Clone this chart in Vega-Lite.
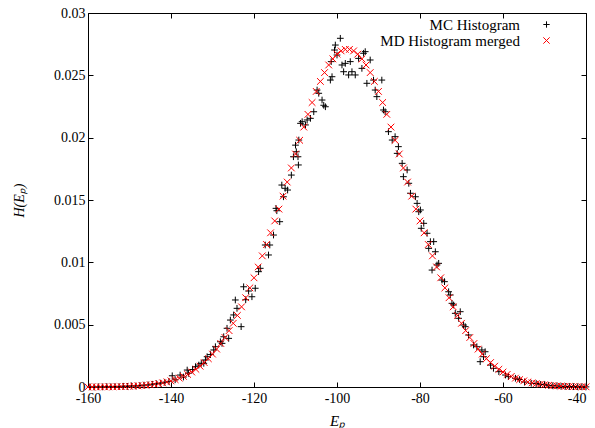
{
  "$schema": "https://vega.github.io/schema/vega-lite/v6.json",
  "width": 498,
  "height": 374,
  "autosize": {"type": "none"},
  "padding": {"left": 88, "top": 13, "right": 9, "bottom": 41},
  "config": {
    "view": {"stroke": "black", "strokeWidth": 1},
    "font": "Liberation Serif",
    "axis": {"domain": false, "grid": false, "tickColor": "black", "tickSize": -5, "labelFlush": false, "labelFont": "Liberation Serif", "labelFontSize": 14, "labelColor": "black", "titleFont": "Liberation Serif", "titleFontSize": 15, "titleFontWeight": "normal", "titleFontStyle": "italic", "titleColor": "black"},
    "legend": {"labelFont": "Liberation Serif", "labelFontSize": 15, "labelColor": "black", "labelLimit": 0}
  },
  "data": {"values": [
    {"E":-159.5,"H":0.00001,"s":"MC Histogram"},{"E":-158.5,"H":0.0,"s":"MC Histogram"},{"E":-157.5,"H":0.00002,"s":"MC Histogram"},{"E":-156.5,"H":0.00001,"s":"MC Histogram"},{"E":-155.5,"H":0.00003,"s":"MC Histogram"},{"E":-154.5,"H":0.00002,"s":"MC Histogram"},{"E":-153.5,"H":0.00004,"s":"MC Histogram"},{"E":-152.5,"H":0.00003,"s":"MC Histogram"},{"E":-151.5,"H":0.00006,"s":"MC Histogram"},{"E":-150.5,"H":0.00005,"s":"MC Histogram"},{"E":-149.5,"H":0.00009,"s":"MC Histogram"},{"E":-148.5,"H":0.00008,"s":"MC Histogram"},{"E":-147.5,"H":0.00012,"s":"MC Histogram"},{"E":-146.5,"H":0.00015,"s":"MC Histogram"},{"E":-145.5,"H":0.00017,"s":"MC Histogram"},{"E":-144.5,"H":0.00022,"s":"MC Histogram"},{"E":-143.5,"H":0.00026,"s":"MC Histogram"},{"E":-142.5,"H":0.00031,"s":"MC Histogram"},{"E":-141.5,"H":0.00038,"s":"MC Histogram"},{"E":-140.5,"H":0.00045,"s":"MC Histogram"},{"E":-139.7,"H":0.0009,"s":"MC Histogram"},{"E":-139,"H":0.00058,"s":"MC Histogram"},{"E":-137.8,"H":0.00096,"s":"MC Histogram"},{"E":-137,"H":0.0008,"s":"MC Histogram"},{"E":-136.1,"H":0.00136,"s":"MC Histogram"},{"E":-135.8,"H":0.0011,"s":"MC Histogram"},{"E":-134.8,"H":0.0014,"s":"MC Histogram"},{"E":-134.1,"H":0.00163,"s":"MC Histogram"},{"E":-133.3,"H":0.00176,"s":"MC Histogram"},{"E":-132.7,"H":0.0019,"s":"MC Histogram"},{"E":-132.1,"H":0.0019,"s":"MC Histogram"},{"E":-131.7,"H":0.00217,"s":"MC Histogram"},{"E":-131.3,"H":0.00243,"s":"MC Histogram"},{"E":-130.5,"H":0.0026,"s":"MC Histogram"},{"E":-129.7,"H":0.00297,"s":"MC Histogram"},{"E":-129.3,"H":0.00323,"s":"MC Histogram"},{"E":-128.1,"H":0.00363,"s":"MC Histogram"},{"E":-127.7,"H":0.0035,"s":"MC Histogram"},{"E":-127.3,"H":0.00403,"s":"MC Histogram"},{"E":-126.5,"H":0.00471,"s":"MC Histogram"},{"E":-126.1,"H":0.0039,"s":"MC Histogram"},{"E":-125.7,"H":0.00537,"s":"MC Histogram"},{"E":-124.9,"H":0.00578,"s":"MC Histogram"},{"E":-124.5,"H":0.00698,"s":"MC Histogram"},{"E":-124.1,"H":0.00631,"s":"MC Histogram"},{"E":-123.1,"H":0.00484,"s":"MC Histogram"},{"E":-122.5,"H":0.00804,"s":"MC Histogram"},{"E":-122.0,"H":0.0070,"s":"MC Histogram"},{"E":-121.3,"H":0.0077,"s":"MC Histogram"},{"E":-120.5,"H":0.00724,"s":"MC Histogram"},{"E":-119.7,"H":0.00792,"s":"MC Histogram"},{"E":-118.9,"H":0.00925,"s":"MC Histogram"},{"E":-118.5,"H":0.00952,"s":"MC Histogram"},{"E":-117.3,"H":0.01139,"s":"MC Histogram"},{"E":-116.5,"H":0.01059,"s":"MC Histogram"},{"E":-116.2,"H":0.01139,"s":"MC Histogram"},{"E":-115.3,"H":0.01219,"s":"MC Histogram"},{"E":-114.7,"H":0.01433,"s":"MC Histogram"},{"E":-114.5,"H":0.01414,"s":"MC Histogram"},{"E":-113.8,"H":0.01326,"s":"MC Histogram"},{"E":-113.3,"H":0.0162,"s":"MC Histogram"},{"E":-112.9,"H":0.01526,"s":"MC Histogram"},{"E":-112.5,"H":0.01594,"s":"MC Histogram"},{"E":-111.9,"H":0.0158,"s":"MC Histogram"},{"E":-111.0,"H":0.017,"s":"MC Histogram"},{"E":-110.5,"H":0.01847,"s":"MC Histogram"},{"E":-110.0,"H":0.0194,"s":"MC Histogram"},{"E":-109.8,"H":0.01887,"s":"MC Histogram"},{"E":-109.4,"H":0.01847,"s":"MC Histogram"},{"E":-109.3,"H":0.01781,"s":"MC Histogram"},{"E":-109.2,"H":0.01981,"s":"MC Histogram"},{"E":-108.8,"H":0.02115,"s":"MC Histogram"},{"E":-108.4,"H":0.02128,"s":"MC Histogram"},{"E":-107.6,"H":0.02102,"s":"MC Histogram"},{"E":-107.2,"H":0.02142,"s":"MC Histogram"},{"E":-106.4,"H":0.02155,"s":"MC Histogram"},{"E":-105.6,"H":0.02208,"s":"MC Histogram"},{"E":-104.8,"H":0.02382,"s":"MC Histogram"},{"E":-104.4,"H":0.02356,"s":"MC Histogram"},{"E":-103.6,"H":0.02302,"s":"MC Histogram"},{"E":-103.2,"H":0.0226,"s":"MC Histogram"},{"E":-102.8,"H":0.02248,"s":"MC Histogram"},{"E":-101.6,"H":0.02462,"s":"MC Histogram"},{"E":-101.4,"H":0.0261,"s":"MC Histogram"},{"E":-101.2,"H":0.02489,"s":"MC Histogram"},{"E":-100.6,"H":0.02703,"s":"MC Histogram"},{"E":-100.4,"H":0.02743,"s":"MC Histogram"},{"E":-100.0,"H":0.02663,"s":"MC Histogram"},{"E":-99.2,"H":0.02797,"s":"MC Histogram"},{"E":-98.8,"H":0.02583,"s":"MC Histogram"},{"E":-98.4,"H":0.02529,"s":"MC Histogram"},{"E":-98.0,"H":0.02596,"s":"MC Histogram"},{"E":-97.2,"H":0.02503,"s":"MC Histogram"},{"E":-96.8,"H":0.0261,"s":"MC Histogram"},{"E":-96.4,"H":0.02529,"s":"MC Histogram"},{"E":-95.6,"H":0.02503,"s":"MC Histogram"},{"E":-94.8,"H":0.02636,"s":"MC Histogram"},{"E":-94.0,"H":0.02556,"s":"MC Histogram"},{"E":-93.6,"H":0.02677,"s":"MC Histogram"},{"E":-93.2,"H":0.0269,"s":"MC Histogram"},{"E":-92.8,"H":0.02436,"s":"MC Histogram"},{"E":-92.0,"H":0.02623,"s":"MC Histogram"},{"E":-91.2,"H":0.02462,"s":"MC Histogram"},{"E":-90.8,"H":0.02382,"s":"MC Histogram"},{"E":-90.4,"H":0.02329,"s":"MC Histogram"},{"E":-89.2,"H":0.02462,"s":"MC Histogram"},{"E":-88.8,"H":0.02222,"s":"MC Histogram"},{"E":-88.4,"H":0.02208,"s":"MC Histogram"},{"E":-87.6,"H":0.02048,"s":"MC Histogram"},{"E":-86.7,"H":0.01981,"s":"MC Histogram"},{"E":-86.0,"H":0.02008,"s":"MC Histogram"},{"E":-85.5,"H":0.01874,"s":"MC Histogram"},{"E":-85.2,"H":0.01928,"s":"MC Histogram"},{"E":-84.3,"H":0.01794,"s":"MC Histogram"},{"E":-84.0,"H":0.01687,"s":"MC Histogram"},{"E":-83.1,"H":0.01741,"s":"MC Histogram"},{"E":-82.7,"H":0.01634,"s":"MC Histogram"},{"E":-82.3,"H":0.01554,"s":"MC Histogram"},{"E":-81.1,"H":0.01526,"s":"MC Histogram"},{"E":-80.7,"H":0.01473,"s":"MC Histogram"},{"E":-80.3,"H":0.01406,"s":"MC Histogram"},{"E":-79.9,"H":0.0142,"s":"MC Histogram"},{"E":-79.7,"H":0.01273,"s":"MC Histogram"},{"E":-79.1,"H":0.01313,"s":"MC Histogram"},{"E":-78.3,"H":0.01233,"s":"MC Histogram"},{"E":-77.9,"H":0.01112,"s":"MC Histogram"},{"E":-77.5,"H":0.01166,"s":"MC Histogram"},{"E":-77.1,"H":0.00938,"s":"MC Histogram"},{"E":-76.7,"H":0.01166,"s":"MC Histogram"},{"E":-76.3,"H":0.01085,"s":"MC Histogram"},{"E":-75.9,"H":0.00979,"s":"MC Histogram"},{"E":-75.5,"H":0.00992,"s":"MC Histogram"},{"E":-74.7,"H":0.00858,"s":"MC Histogram"},{"E":-74.1,"H":0.00845,"s":"MC Histogram"},{"E":-73.1,"H":0.00764,"s":"MC Histogram"},{"E":-72.7,"H":0.00738,"s":"MC Histogram"},{"E":-72.3,"H":0.00671,"s":"MC Histogram"},{"E":-71.9,"H":0.00658,"s":"MC Histogram"},{"E":-71.5,"H":0.00591,"s":"MC Histogram"},{"E":-70.7,"H":0.00551,"s":"MC Histogram"},{"E":-70.3,"H":0.00604,"s":"MC Histogram"},{"E":-69.5,"H":0.00497,"s":"MC Histogram"},{"E":-69.1,"H":0.00484,"s":"MC Histogram"},{"E":-68.3,"H":0.00417,"s":"MC Histogram"},{"E":-67.1,"H":0.00337,"s":"MC Histogram"},{"E":-66.3,"H":0.00323,"s":"MC Histogram"},{"E":-65.5,"H":0.00203,"s":"MC Histogram"},{"E":-65.1,"H":0.00297,"s":"MC Histogram"},{"E":-64.7,"H":0.00243,"s":"MC Histogram"},{"E":-64.3,"H":0.00283,"s":"MC Histogram"},{"E":-63.0,"H":0.00176,"s":"MC Histogram"},{"E":-62.3,"H":0.0015,"s":"MC Histogram"},{"E":-61.0,"H":0.00123,"s":"MC Histogram"},{"E":-59.4,"H":0.00096,"s":"MC Histogram"},{"E":-58.7,"H":0.00083,"s":"MC Histogram"},{"E":-57.0,"H":0.0007,"s":"MC Histogram"},{"E":-56.0,"H":0.0006,"s":"MC Histogram"},{"E":-54.8,"H":0.0004,"s":"MC Histogram"},{"E":-53.2,"H":0.0003,"s":"MC Histogram"},{"E":-52.0,"H":0.00028,"s":"MC Histogram"},{"E":-51.0,"H":0.00021,"s":"MC Histogram"},{"E":-50.0,"H":0.00019,"s":"MC Histogram"},{"E":-49.0,"H":0.00013,"s":"MC Histogram"},{"E":-48.0,"H":0.0001,"s":"MC Histogram"},{"E":-47.0,"H":0.00009,"s":"MC Histogram"},{"E":-46.0,"H":0.00006,"s":"MC Histogram"},{"E":-45.0,"H":0.00005,"s":"MC Histogram"},{"E":-44.0,"H":0.00004,"s":"MC Histogram"},{"E":-43.0,"H":0.00003,"s":"MC Histogram"},{"E":-42.0,"H":0.00002,"s":"MC Histogram"},{"E":-41.0,"H":0.00002,"s":"MC Histogram"},{"E":-40.0,"H":0.00001,"s":"MC Histogram"},
    {"E":-160,"H":0.000004,"s":"MD Histogram merged"},{"E":-159,"H":0.000005,"s":"MD Histogram merged"},{"E":-158,"H":0.000007,"s":"MD Histogram merged"},{"E":-157,"H":0.000009,"s":"MD Histogram merged"},{"E":-156,"H":0.000012,"s":"MD Histogram merged"},{"E":-155,"H":0.000015,"s":"MD Histogram merged"},{"E":-154,"H":0.00002,"s":"MD Histogram merged"},{"E":-153,"H":0.000025,"s":"MD Histogram merged"},{"E":-152,"H":0.000033,"s":"MD Histogram merged"},{"E":-151,"H":0.000043,"s":"MD Histogram merged"},{"E":-150,"H":0.000055,"s":"MD Histogram merged"},{"E":-149,"H":0.00007,"s":"MD Histogram merged"},{"E":-148,"H":0.00009,"s":"MD Histogram merged"},{"E":-147,"H":0.00011,"s":"MD Histogram merged"},{"E":-146,"H":0.00014,"s":"MD Histogram merged"},{"E":-145,"H":0.00018,"s":"MD Histogram merged"},{"E":-144,"H":0.00022,"s":"MD Histogram merged"},{"E":-143,"H":0.00027,"s":"MD Histogram merged"},{"E":-142,"H":0.00033,"s":"MD Histogram merged"},{"E":-141,"H":0.0004,"s":"MD Histogram merged"},{"E":-140,"H":0.00049,"s":"MD Histogram merged"},{"E":-139,"H":0.00059,"s":"MD Histogram merged"},{"E":-138,"H":0.00071,"s":"MD Histogram merged"},{"E":-137,"H":0.00085,"s":"MD Histogram merged"},{"E":-136,"H":0.00101,"s":"MD Histogram merged"},{"E":-135,"H":0.0012,"s":"MD Histogram merged"},{"E":-134,"H":0.00142,"s":"MD Histogram merged"},{"E":-133,"H":0.00167,"s":"MD Histogram merged"},{"E":-132,"H":0.00196,"s":"MD Histogram merged"},{"E":-131,"H":0.00227,"s":"MD Histogram merged"},{"E":-130,"H":0.00264,"s":"MD Histogram merged"},{"E":-129,"H":0.00304,"s":"MD Histogram merged"},{"E":-128,"H":0.00349,"s":"MD Histogram merged"},{"E":-127,"H":0.00397,"s":"MD Histogram merged"},{"E":-126,"H":0.00452,"s":"MD Histogram merged"},{"E":-125,"H":0.00511,"s":"MD Histogram merged"},{"E":-124,"H":0.00574,"s":"MD Histogram merged"},{"E":-123,"H":0.00643,"s":"MD Histogram merged"},{"E":-122,"H":0.00716,"s":"MD Histogram merged"},{"E":-121,"H":0.00795,"s":"MD Histogram merged"},{"E":-120,"H":0.00876,"s":"MD Histogram merged"},{"E":-119,"H":0.00963,"s":"MD Histogram merged"},{"E":-118,"H":0.01052,"s":"MD Histogram merged"},{"E":-117,"H":0.01143,"s":"MD Histogram merged"},{"E":-116,"H":0.01237,"s":"MD Histogram merged"},{"E":-115,"H":0.01332,"s":"MD Histogram merged"},{"E":-114,"H":0.01427,"s":"MD Histogram merged"},{"E":-113,"H":0.01531,"s":"MD Histogram merged"},{"E":-112,"H":0.01644,"s":"MD Histogram merged"},{"E":-111,"H":0.01757,"s":"MD Histogram merged"},{"E":-110,"H":0.01869,"s":"MD Histogram merged"},{"E":-109,"H":0.01979,"s":"MD Histogram merged"},{"E":-108,"H":0.02085,"s":"MD Histogram merged"},{"E":-107,"H":0.02187,"s":"MD Histogram merged"},{"E":-106,"H":0.02282,"s":"MD Histogram merged"},{"E":-105,"H":0.02371,"s":"MD Histogram merged"},{"E":-104,"H":0.02451,"s":"MD Histogram merged"},{"E":-103,"H":0.02522,"s":"MD Histogram merged"},{"E":-102,"H":0.02583,"s":"MD Histogram merged"},{"E":-101,"H":0.02632,"s":"MD Histogram merged"},{"E":-100,"H":0.0267,"s":"MD Histogram merged"},{"E":-99,"H":0.02696,"s":"MD Histogram merged"},{"E":-98,"H":0.02708,"s":"MD Histogram merged"},{"E":-97,"H":0.02708,"s":"MD Histogram merged"},{"E":-96,"H":0.02696,"s":"MD Histogram merged"},{"E":-95,"H":0.0267,"s":"MD Histogram merged"},{"E":-94,"H":0.02632,"s":"MD Histogram merged"},{"E":-93,"H":0.02583,"s":"MD Histogram merged"},{"E":-92,"H":0.02522,"s":"MD Histogram merged"},{"E":-91,"H":0.02451,"s":"MD Histogram merged"},{"E":-90,"H":0.02371,"s":"MD Histogram merged"},{"E":-89,"H":0.02282,"s":"MD Histogram merged"},{"E":-88,"H":0.02187,"s":"MD Histogram merged"},{"E":-87,"H":0.02085,"s":"MD Histogram merged"},{"E":-86,"H":0.01979,"s":"MD Histogram merged"},{"E":-85,"H":0.01869,"s":"MD Histogram merged"},{"E":-84,"H":0.01757,"s":"MD Histogram merged"},{"E":-83,"H":0.01644,"s":"MD Histogram merged"},{"E":-82,"H":0.01531,"s":"MD Histogram merged"},{"E":-81,"H":0.01427,"s":"MD Histogram merged"},{"E":-80,"H":0.01332,"s":"MD Histogram merged"},{"E":-79,"H":0.01237,"s":"MD Histogram merged"},{"E":-78,"H":0.01143,"s":"MD Histogram merged"},{"E":-77,"H":0.01052,"s":"MD Histogram merged"},{"E":-76,"H":0.00963,"s":"MD Histogram merged"},{"E":-75,"H":0.00876,"s":"MD Histogram merged"},{"E":-74,"H":0.00795,"s":"MD Histogram merged"},{"E":-73,"H":0.00716,"s":"MD Histogram merged"},{"E":-72,"H":0.00643,"s":"MD Histogram merged"},{"E":-71,"H":0.00574,"s":"MD Histogram merged"},{"E":-70,"H":0.00511,"s":"MD Histogram merged"},{"E":-69,"H":0.00452,"s":"MD Histogram merged"},{"E":-68,"H":0.00397,"s":"MD Histogram merged"},{"E":-67,"H":0.00349,"s":"MD Histogram merged"},{"E":-66,"H":0.00304,"s":"MD Histogram merged"},{"E":-65,"H":0.00264,"s":"MD Histogram merged"},{"E":-64,"H":0.00227,"s":"MD Histogram merged"},{"E":-63,"H":0.00196,"s":"MD Histogram merged"},{"E":-62,"H":0.00167,"s":"MD Histogram merged"},{"E":-61,"H":0.00142,"s":"MD Histogram merged"},{"E":-60,"H":0.0012,"s":"MD Histogram merged"},{"E":-59,"H":0.00101,"s":"MD Histogram merged"},{"E":-58,"H":0.00085,"s":"MD Histogram merged"},{"E":-57,"H":0.00071,"s":"MD Histogram merged"},{"E":-56,"H":0.00059,"s":"MD Histogram merged"},{"E":-55,"H":0.00049,"s":"MD Histogram merged"},{"E":-54,"H":0.0004,"s":"MD Histogram merged"},{"E":-53,"H":0.00033,"s":"MD Histogram merged"},{"E":-52,"H":0.00027,"s":"MD Histogram merged"},{"E":-51,"H":0.00022,"s":"MD Histogram merged"},{"E":-50,"H":0.00018,"s":"MD Histogram merged"},{"E":-49,"H":0.00014,"s":"MD Histogram merged"},{"E":-48,"H":0.00011,"s":"MD Histogram merged"},{"E":-47,"H":0.00009,"s":"MD Histogram merged"},{"E":-46,"H":0.00007,"s":"MD Histogram merged"},{"E":-45,"H":0.000055,"s":"MD Histogram merged"},{"E":-44,"H":0.000043,"s":"MD Histogram merged"},{"E":-43,"H":0.000033,"s":"MD Histogram merged"},{"E":-42,"H":0.000025,"s":"MD Histogram merged"},{"E":-41,"H":0.00002,"s":"MD Histogram merged"},{"E":-40,"H":0.000015,"s":"MD Histogram merged"}
  ]},
  "resolve": {"axis": {"x": "independent", "y": "independent"}},
  "layer": [
    {
      "mark": {"type": "point", "filled": false, "strokeWidth": 1, "size": 45, "opacity": 1},
      "encoding": {
        "x": {"field": "E", "type": "quantitative", "scale": {"domain": [-160, -40], "nice": false, "zero": false},
          "axis": {"orient": "bottom", "values": [-160, -140, -120, -100, -80, -60, -40], "labelExpr": "'' + datum.value", "labelAlign": {"condition": {"test": "datum.value === -40", "value": "right"}, "value": "center"}, "labelPadding": 9, "title": "Eₚ", "titlePadding": 8}},
        "y": {"field": "H", "type": "quantitative", "scale": {"domain": [0, 0.03], "nice": false},
          "axis": {"orient": "left", "values": [0, 0.005, 0.01, 0.015, 0.02, 0.025, 0.03], "format": "~g", "labelPadding": 8, "title": "H(Eₚ)", "titleFontSize": 14, "titlePadding": 27}},
        "color": {"field": "s", "type": "nominal", "scale": {"domain": ["MC Histogram", "MD Histogram merged"], "range": ["#000000", "#ff0000"]},
          "legend": {"title": null, "orient": "none", "legendX": 451, "legendY": 4, "padding": 0, "labelAlign": "right", "labelOffset": -34, "rowPadding": -1, "symbolStrokeWidth": 1, "symbolSize": 40}},
        "shape": {"field": "s", "type": "nominal", "scale": {"domain": ["MC Histogram", "MD Histogram merged"], "range": ["M-1,0L1,0M0,-1L0,1", "M-1,-1L1,1M-1,1L1,-1"]},
          "legend": {"title": null, "orient": "none", "legendX": 451, "legendY": 4, "padding": 0, "labelAlign": "right", "labelOffset": -34, "rowPadding": -1, "symbolStrokeWidth": 1, "symbolSize": 40}}
      }
    },
    {
      "mark": {"type": "point", "opacity": 0},
      "encoding": {
        "x": {"field": "E", "type": "quantitative", "scale": {"domain": [-160, -40], "nice": false, "zero": false},
          "axis": {"orient": "top", "values": [-160, -140, -120, -100, -80, -60, -40], "labels": false, "title": null}},
        "y": {"field": "H", "type": "quantitative", "scale": {"domain": [0, 0.03], "nice": false},
          "axis": {"orient": "right", "values": [0, 0.005, 0.01, 0.015, 0.02, 0.025, 0.03], "labels": false, "title": null}}
      }
    }
  ]
}
